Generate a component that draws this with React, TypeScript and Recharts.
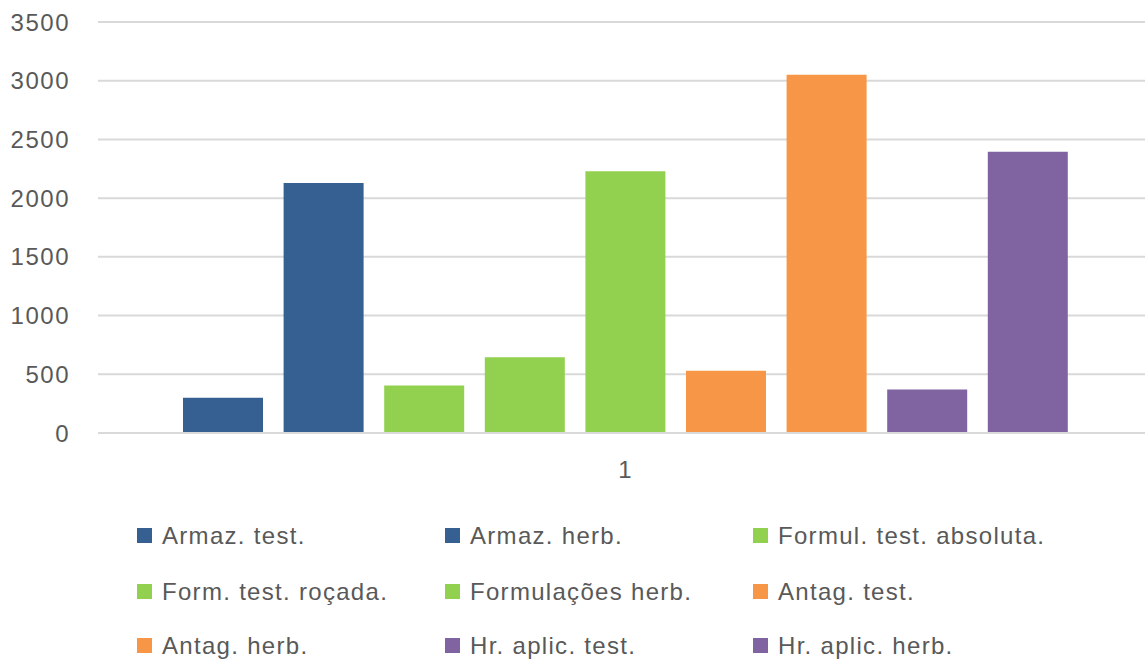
import React from 'react';
import { BarChart, Bar, XAxis, YAxis, CartesianGrid } from 'recharts';

const categories = ['1'];

const seriesNames = [
  'Armaz. test.',
  'Armaz. herb.',
  'Formul. test. absoluta.',
  'Form. test. roçada.',
  'Formulações herb.',
  'Antag. test.',
  'Antag. herb.',
  'Hr. aplic. test.',
  'Hr. aplic. herb.',
];

const seriesValues = [300, 2130, 405, 645, 2230, 530, 3050, 370, 2395];

const yTicks = [0, 500, 1000, 1500, 2000, 2500, 3000, 3500];

const BLUE = '#376092';
const GREEN = '#92d050';
const ORANGE = '#f79646';
const PURPLE = '#8064a2';
const seriesColors = [BLUE, BLUE, GREEN, GREEN, GREEN, ORANGE, ORANGE, PURPLE, PURPLE];

const data = categories.map((name) => {
  const row: Record<string, string | number> = { name };
  seriesValues.forEach((v, i) => {
    row[`s${i}`] = v;
  });
  return row;
});

const FONT = '"Liberation Sans", Arial, sans-serif';
const TEXT = '#595959';
const GRID = '#d9d9d9';

const legendCols = [137, 445, 753];
const legendRows = [528, 584, 638];

const ChartLegend: React.FC = () => (
  <>
    {seriesNames.map((name, i) => {
      const left = legendCols[i % 3];
      const top = legendRows[Math.floor(i / 3)];
      return (
        <div key={name}>
          <div
            style={{
              position: 'absolute',
              left,
              top,
              width: 15,
              height: 15,
              background: seriesColors[i],
            }}
          />
          <div
            style={{
              position: 'absolute',
              left: left + 25,
              top: top - 7,
              lineHeight: '30px',
              fontSize: 24,
              letterSpacing: 1.3,
              color: TEXT,
              fontFamily: FONT,
              whiteSpace: 'nowrap',
            }}
          >
            {name}
          </div>
        </div>
      );
    })}
  </>
);

const App: React.FC = () => {
  return (
    <div
      style={{
        position: 'absolute',
        left: 0,
        top: 0,
        width: 1145,
        height: 659,
        background: '#fff',
        fontFamily: FONT,
        overflow: 'hidden',
      }}
    >
      <BarChart
        width={1145}
        height={659}
        data={data}
        margin={{ top: 22, right: -7, left: 0, bottom: 186 }}
        barCategoryGap={85}
        barGap={20.6}
      >
        <CartesianGrid vertical={false} stroke={GRID} strokeWidth={2} />
        <XAxis
          dataKey="name"
          height={40}
          axisLine={{ stroke: GRID, strokeWidth: 2 }}
          tickLine={false}
          tickMargin={22}
          tick={{ fill: TEXT, fontSize: 24, fontFamily: FONT }}
        />
        <YAxis
          width={98}
          domain={[0, 3500]}
          ticks={yTicks}
          axisLine={false}
          tickLine={false}
          tickMargin={22}
          tick={{ fill: TEXT, fontSize: 24, fontFamily: FONT, letterSpacing: 1.5 }}
        />
        {seriesNames.map((name, i) => (
          <Bar
            key={name}
            dataKey={`s${i}`}
            name={name}
            fill={seriesColors[i]}
            isAnimationActive={false}
          />
        ))}
      </BarChart>
      <ChartLegend />
    </div>
  );
};

export default App;
